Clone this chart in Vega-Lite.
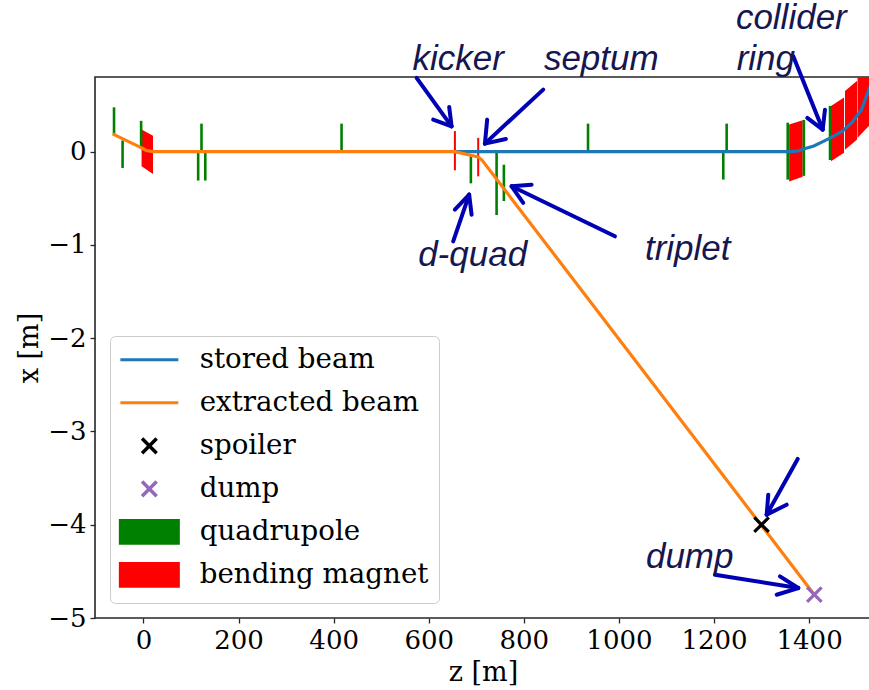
{
  "$schema": "https://vega.github.io/schema/vega-lite/v6.json",
  "width": 776,
  "height": 541,
  "autosize": {"type": "none"},
  "padding": {"left": 95, "top": 77, "right": 0, "bottom": 72},
  "background": "white",
  "config": {
    "view": {"stroke": "#262626", "strokeWidth": 1.6},
    "axis": {
      "domain": false, "grid": false,
      "labelFont": "DejaVu Serif", "labelFontSize": 26, "labelColor": "#000000",
      "tickColor": "#262626", "tickSize": 5, "tickWidth": 1.3,
      "titleFont": "DejaVu Serif", "titleFontSize": 27, "titleFontWeight": "normal", "titleColor": "#000000"
    }
  },
  "datasets": {
    "magnets": [
      {"id": "m0", "series": "bending magnet", "z": -4, "x": -0.158, "x2": 0.236},
      {"id": "m0", "series": "bending magnet", "z": 20, "x": -0.24, "x2": 0.17},
      {"id": "ma", "series": "bending magnet", "z": 1358, "x": -0.32, "x2": 0.29},
      {"id": "ma", "series": "bending magnet", "z": 1386.5, "x": -0.27, "x2": 0.336},
      {"id": "mb", "series": "bending magnet", "z": 1446, "x": -0.104, "x2": 0.49},
      {"id": "mb", "series": "bending magnet", "z": 1473.5, "x": -0.012, "x2": 0.58},
      {"id": "mc", "series": "bending magnet", "z": 1475.5, "x": 0.02, "x2": 0.65},
      {"id": "mc", "series": "bending magnet", "z": 1501, "x": 0.13, "x2": 0.76},
      {"id": "md", "series": "bending magnet", "z": 1502, "x": 0.15, "x2": 0.85},
      {"id": "md", "series": "bending magnet", "z": 1530, "x": 0.3, "x2": 1.0}
    ],
    "thin": [
      {"series": "bending magnet", "z": 655, "x": 0.22, "x2": -0.2},
      {"series": "bending magnet", "z": 704, "x": 0.147, "x2": -0.265}
    ],
    "quads": [
      {"series": "quadrupole", "z": -62, "x": 0.185, "x2": 0.475},
      {"series": "quadrupole", "z": -44, "x": 0.12, "x2": -0.175},
      {"series": "quadrupole", "z": -5, "x": 0.04, "x2": 0.33},
      {"series": "quadrupole", "z": 115, "x": 0, "x2": -0.31},
      {"series": "quadrupole", "z": 122, "x": 0, "x2": 0.3},
      {"series": "quadrupole", "z": 130, "x": 0, "x2": -0.31},
      {"series": "quadrupole", "z": 416.6, "x": 0, "x2": 0.3},
      {"series": "quadrupole", "z": 688.6, "x": -0.05, "x2": -0.34},
      {"series": "quadrupole", "z": 742.7, "x": -0.01, "x2": -0.68},
      {"series": "quadrupole", "z": 758, "x": -0.14, "x2": -0.53},
      {"series": "quadrupole", "z": 935, "x": 0, "x2": 0.3},
      {"series": "quadrupole", "z": 1219.5, "x": 0, "x2": -0.3},
      {"series": "quadrupole", "z": 1226.6, "x": 0, "x2": 0.3},
      {"series": "quadrupole", "z": 1355, "x": 0.31, "x2": -0.3},
      {"series": "quadrupole", "z": 1389, "x": 0.34, "x2": -0.26},
      {"series": "quadrupole", "z": 1444, "x": 0.49, "x2": -0.09}
    ],
    "stored": [
      {"series": "stored beam", "z": 655, "x": 0},
      {"series": "stored beam", "z": 1360, "x": 0},
      {"series": "stored beam", "z": 1375, "x": 0.005},
      {"series": "stored beam", "z": 1390, "x": 0.03},
      {"series": "stored beam", "z": 1410, "x": 0.06},
      {"series": "stored beam", "z": 1430, "x": 0.11},
      {"series": "stored beam", "z": 1450, "x": 0.16},
      {"series": "stored beam", "z": 1470, "x": 0.22},
      {"series": "stored beam", "z": 1490, "x": 0.31},
      {"series": "stored beam", "z": 1510, "x": 0.45},
      {"series": "stored beam", "z": 1530, "x": 0.72}
    ],
    "extracted": [
      {"series": "extracted beam", "z": -65, "x": 0.19},
      {"series": "extracted beam", "z": -4, "x": 0.04},
      {"series": "extracted beam", "z": 6, "x": 0.012},
      {"series": "extracted beam", "z": 20, "x": 0},
      {"series": "extracted beam", "z": 655, "x": 0},
      {"series": "extracted beam", "z": 704, "x": -0.057},
      {"series": "extracted beam", "z": 712, "x": -0.09},
      {"series": "extracted beam", "z": 1411, "x": -4.75}
    ],
    "markers": [
      {"series": "spoiler", "z": 1300, "x": -4.0},
      {"series": "dump", "z": 1411, "x": -4.75}
    ],
    "labels": [
      {"text": "kicker", "z": 566, "x": 0.879},
      {"text": "septum", "z": 842.2, "x": 0.879},
      {"text": "collider", "z": 1246, "x": 1.31},
      {"text": "ring", "z": 1247.6, "x": 0.879},
      {"text": "d-quad", "z": 577.7, "x": -1.23},
      {"text": "triplet", "z": 1054.7, "x": -1.158},
      {"text": "dump", "z": 1056.8, "x": -4.464}
    ],
    "arrows": [
      {"z": 574.4, "x": 0.79, "z2": 648.0, "x2": 0.271},
      {"z": 609.3, "x": 0.343, "z2": 648.0, "x2": 0.271},
      {"z": 643.0, "x": 0.479, "z2": 648.0, "x2": 0.271},
      {"z": 840.7, "x": 0.665, "z2": 718.1, "x2": 0.086},
      {"z": 762.3, "x": 0.136, "z2": 718.1, "x2": 0.086},
      {"z": 722.9, "x": 0.343, "z2": 718.1, "x2": 0.086},
      {"z": 1366.7, "x": 1.022, "z2": 1428.6, "x2": 0.236},
      {"z": 1396.2, "x": 0.361, "z2": 1428.6, "x2": 0.236},
      {"z": 1433.4, "x": 0.45, "z2": 1428.6, "x2": 0.236},
      {"z": 651.4, "x": -0.962, "z2": 685.0, "x2": -0.461},
      {"z": 654.9, "x": -0.622, "z2": 685.0, "x2": -0.461},
      {"z": 690.1, "x": -0.676, "z2": 685.0, "x2": -0.461},
      {"z": 991.6, "x": -0.908, "z2": 774.3, "x2": -0.372},
      {"z": 816.3, "x": -0.354, "z2": 774.3, "x2": -0.372},
      {"z": 798.7, "x": -0.55, "z2": 774.3, "x2": -0.372},
      {"z": 1376.0, "x": -3.295, "z2": 1310.8, "x2": -3.892},
      {"z": 1314.1, "x": -3.678, "z2": 1310.8, "x2": -3.892},
      {"z": 1352.8, "x": -3.785, "z2": 1310.8, "x2": -3.892},
      {"z": 1202, "x": -4.536, "z2": 1377.2, "x2": -4.679},
      {"z": 1338.7, "x": -4.554, "z2": 1377.2, "x2": -4.679},
      {"z": 1331.8, "x": -4.751, "z2": 1377.2, "x2": -4.679}
    ]
  },
  "layer": [
    {
      "data": {"name": "magnets"},
      "mark": {"type": "area", "orient": "vertical", "opacity": 1, "clip": true},
      "encoding": {
        "x": {"field": "z", "type": "quantitative", "scale": {"domain": [-102, 1530.2], "nice": false, "zero": false},
              "axis": {"values": [0, 200, 400, 600, 800, 1000, 1200, 1400], "format": "d", "title": "z [m]", "labelPadding": 4, "titlePadding": 6, "labelFlush": false}},
        "y": {"field": "x", "type": "quantitative", "scale": {"domain": [-5, 0.8], "nice": false, "zero": false},
              "axis": {"values": [-5, -4, -3, -2, -1, 0], "format": "d", "title": "x [m]", "labelPadding": 4, "titlePadding": 4}},
        "y2": {"field": "x2"},
        "detail": {"field": "id"},
        "color": {
          "field": "series", "type": "nominal",
          "scale": {"domain": ["stored beam", "extracted beam", "spoiler", "dump", "quadrupole", "bending magnet"],
                    "range": ["#1f77b4", "#ff7f0e", "#000000", "#9467bd", "#008000", "#ff0000"]},
          "legend": {
            "title": null, "orient": "bottom-left", "offset": 15, "padding": 10, "rowPadding": 7, "gridAlign": "all",
            "symbolSize": 729, "labelFont": "DejaVu Serif", "labelFontSize": 27.7, "labelColor": "#000000",
            "labelOffset": 52, "labelLimit": 400, "strokeColor": "#cccccc", "fillColor": "rgba(255,255,255,0.8)",
            "cornerRadius": 5,
            "encoding": {
              "symbols": {
                "shape": {"value": {"expr": "indexof(['spoiler','dump'], datum.value) >= 0 ? 'M0.608,-0.54L1.688,0.54M0.608,0.54L1.688,-0.54' : (indexof(['quadrupole','bending magnet'], datum.value) >= 0 ? 'M-1,-0.837H3.296V0.837H-1Z' : 'M-1,0H3.296')"}},
                "fill": {"value": {"expr": "indexof(['quadrupole','bending magnet'], datum.value) >= 0 ? scale('color', datum.value) : 'transparent'"}},
                "stroke": {"value": {"expr": "indexof(['quadrupole','bending magnet'], datum.value) >= 0 ? 'transparent' : scale('color', datum.value)"}},
                "strokeWidth": {"value": {"expr": "indexof(['spoiler','dump'], datum.value) >= 0 ? 3.5 : 3"}},
                "opacity": {"value": 1},
                "fillOpacity": {"value": 1},
                "strokeOpacity": {"value": 1}
              }
            }
          }
        }
      }
    },
    {
      "data": {"name": "thin"},
      "mark": {"type": "rule", "strokeWidth": 2, "clip": true},
      "encoding": {
        "x": {"field": "z", "type": "quantitative", "scale": {"domain": [-102, 1530.2], "nice": false, "zero": false}, "title": "z [m]"},
        "y": {"field": "x", "type": "quantitative", "scale": {"domain": [-5, 0.8], "nice": false, "zero": false}, "title": "x [m]"},
        "y2": {"field": "x2"},
        "color": {"field": "series", "type": "nominal"}
      }
    },
    {
      "data": {"name": "quads"},
      "mark": {"type": "rule", "strokeWidth": 2.6, "clip": true},
      "encoding": {
        "x": {"field": "z", "type": "quantitative", "scale": {"domain": [-102, 1530.2], "nice": false, "zero": false}, "title": "z [m]"},
        "y": {"field": "x", "type": "quantitative", "scale": {"domain": [-5, 0.8], "nice": false, "zero": false}, "title": "x [m]"},
        "y2": {"field": "x2"},
        "color": {"field": "series", "type": "nominal"}
      }
    },
    {
      "data": {"name": "stored"},
      "mark": {"type": "line", "strokeWidth": 3.2, "clip": true},
      "encoding": {
        "x": {"field": "z", "type": "quantitative", "scale": {"domain": [-102, 1530.2], "nice": false, "zero": false}, "title": "z [m]"},
        "y": {"field": "x", "type": "quantitative", "scale": {"domain": [-5, 0.8], "nice": false, "zero": false}, "title": "x [m]"},
        "color": {"field": "series", "type": "nominal"}
      }
    },
    {
      "data": {"name": "extracted"},
      "mark": {"type": "line", "strokeWidth": 3.2, "clip": true},
      "encoding": {
        "x": {"field": "z", "type": "quantitative", "scale": {"domain": [-102, 1530.2], "nice": false, "zero": false}, "title": "z [m]"},
        "y": {"field": "x", "type": "quantitative", "scale": {"domain": [-5, 0.8], "nice": false, "zero": false}, "title": "x [m]"},
        "color": {"field": "series", "type": "nominal"}
      }
    },
    {
      "data": {"name": "markers"},
      "mark": {"type": "point", "shape": "M-1,-1L1,1M-1,1L1,-1", "filled": false, "size": 210, "strokeWidth": 3.2, "opacity": 1, "clip": true},
      "encoding": {
        "x": {"field": "z", "type": "quantitative", "scale": {"domain": [-102, 1530.2], "nice": false, "zero": false}, "title": "z [m]"},
        "y": {"field": "x", "type": "quantitative", "scale": {"domain": [-5, 0.8], "nice": false, "zero": false}, "title": "x [m]"},
        "color": {"field": "series", "type": "nominal"}
      }
    },
    {
      "data": {"name": "arrows"},
      "mark": {"type": "rule", "strokeWidth": 4, "color": "#0000b4", "strokeCap": "round"},
      "encoding": {
        "x": {"field": "z", "type": "quantitative", "scale": {"domain": [-102, 1530.2], "nice": false, "zero": false}, "title": "z [m]"},
        "y": {"field": "x", "type": "quantitative", "scale": {"domain": [-5, 0.8], "nice": false, "zero": false}, "title": "x [m]"},
        "x2": {"field": "z2"},
        "y2": {"field": "x2"}
      }
    },
    {
      "data": {"name": "labels"},
      "mark": {"type": "text", "font": "Liberation Sans", "fontStyle": "italic", "fontSize": 35, "color": "#161650", "align": "left", "baseline": "alphabetic"},
      "encoding": {
        "x": {"field": "z", "type": "quantitative", "scale": {"domain": [-102, 1530.2], "nice": false, "zero": false}, "title": "z [m]"},
        "y": {"field": "x", "type": "quantitative", "scale": {"domain": [-5, 0.8], "nice": false, "zero": false}, "title": "x [m]"},
        "text": {"field": "text", "type": "nominal"}
      }
    }
  ]
}
